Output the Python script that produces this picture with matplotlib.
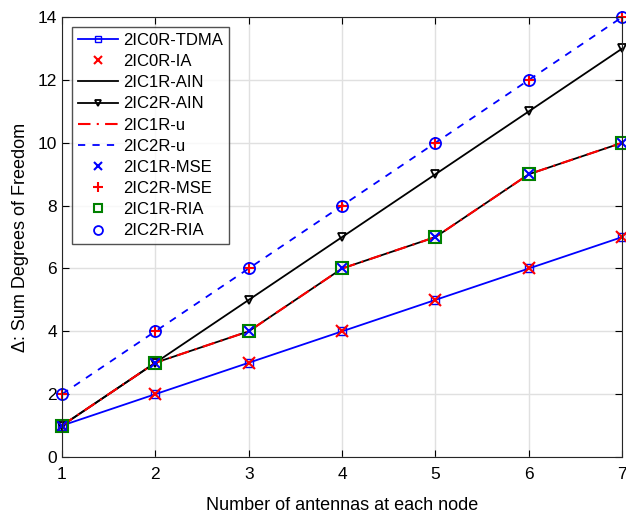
import matplotlib
matplotlib.use("Agg")
import matplotlib.pyplot as plt

antennas = [1, 2, 3, 4, 5, 6, 7]
dof_0r = [1, 2, 3, 4, 5, 6, 7]          # 2IC0R-TDMA / 2IC0R-IA
dof_1r = [1, 3, 4, 6, 7, 9, 10]         # 2IC1R-AIN / -u / -MSE / -RIA
dof_2r_ain = [1, 3, 5, 7, 9, 11, 13]    # 2IC2R-AIN
dof_2r = [2, 4, 6, 8, 10, 12, 14]       # 2IC2R-u / -MSE / -RIA

plt.rcParams["font.family"] = ["Liberation Sans", "DejaVu Sans"]

fig = plt.figure(figsize=(6.26, 5.17), dpi=100)
ax = fig.add_axes([0.099, 0.116, 0.895, 0.851])

ax.plot(antennas, dof_0r, color="#0000ff", marker="s", markersize=6, mfc="none",
        linewidth=1.3, label="2IC0R-TDMA", clip_on=False)
ax.plot(antennas, dof_0r, color="#ff0000", marker="x", markersize=8, mew=1.5,
        linestyle="none", label="2IC0R-IA", clip_on=False)
ax.plot(antennas, dof_1r, color="black", linewidth=1.3, label="2IC1R-AIN")
ax.plot(antennas, dof_2r_ain, color="black", marker="v", markersize=6,
        mfc="none", mew=1.3, linewidth=1.3, label="2IC2R-AIN", clip_on=False)
ax.plot(antennas, dof_1r, color="#ff0000", linestyle=(0, (6, 3, 1, 3)),
        linewidth=1.5, label="2IC1R-u")
ax.plot(antennas, dof_2r, color="#0000ff", linestyle=(0, (4, 4)),
        linewidth=1.3, label="2IC2R-u")
ax.plot(antennas, dof_1r, color="#0000ff", marker="x", markersize=7, mew=1.5,
        linestyle="none", label="2IC1R-MSE", clip_on=False)
ax.plot(antennas, dof_2r, color="#ff0000", marker="+", markersize=9, mew=1.5,
        linestyle="none", label="2IC2R-MSE", clip_on=False)
ax.plot(antennas, dof_1r, color="#008000", marker="s", markersize=8, mfc="none",
        mew=1.5, linestyle="none", label="2IC1R-RIA", clip_on=False)
ax.plot(antennas, dof_2r, color="#0000ff", marker="o", markersize=8, mfc="none",
        mew=1.3, linestyle="none", label="2IC2R-RIA", clip_on=False)

ax.set_xlim(1, 7)
ax.set_ylim(0, 14)
ax.set_xticks(range(1, 8))
ax.set_yticks(range(0, 15, 2))
ax.tick_params(direction="in", labelsize=12.5, length=5, top=True, right=True)
ax.tick_params(axis="x", pad=7)
ax.grid(True, color="#e0e0e0", linewidth=1)
ax.set_axisbelow(True)
for s in ax.spines.values():
    s.set_color("#262626")
ax.set_xlabel("Number of antennas at each node", fontsize=13, labelpad=11)
ax.set_ylabel("\u0394: Sum Degrees of Freedom", fontsize=13, labelpad=6)

leg = ax.legend(loc="upper left", fontsize=12, frameon=True, fancybox=False,
                edgecolor="#262626", borderaxespad=0.6, labelspacing=0.37,
                handlelength=2.4, handletextpad=0.3, borderpad=0.35,
                markerscale=0.8)
leg.get_frame().set_linewidth(1.0)

fig.savefig("out.png", dpi=100)
